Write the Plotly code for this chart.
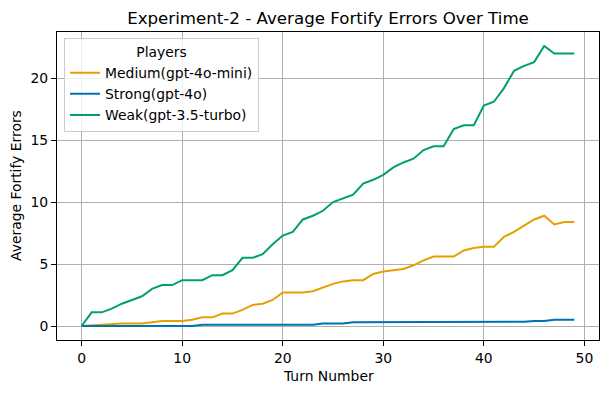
import plotly.graph_objects as go

turns = list(range(50))

medium = [0, 0.05, 0.1, 0.2, 0.2, 0.2, 0.2, 0.3, 0.4, 0.4,
          0.4, 0.5, 0.7, 0.7, 1.0, 1.0, 1.3, 1.7, 1.8, 2.1,
          2.7, 2.7, 2.7, 2.8, 3.1, 3.4, 3.6, 3.7, 3.7, 4.2,
          4.4, 4.5, 4.6, 4.9, 5.3, 5.6, 5.6, 5.6, 6.1, 6.3,
          6.4, 6.4, 7.2, 7.6, 8.1, 8.6, 8.9, 8.2, 8.4, 8.4]

strong = [0, 0, 0, 0, 0, 0, 0, 0, 0, 0,
          0, 0, 0.1, 0.1, 0.1, 0.1, 0.1, 0.1, 0.1, 0.1,
          0.1, 0.1, 0.1, 0.1, 0.2, 0.2, 0.2, 0.3, 0.3, 0.3,
          0.3, 0.3, 0.3, 0.3, 0.3, 0.3, 0.3, 0.3, 0.3, 0.3,
          0.3, 0.3, 0.35, 0.35, 0.35, 0.4, 0.4, 0.5, 0.5, 0.5]

weak = [0, 1.1, 1.1, 1.4, 1.8, 2.1, 2.4, 3.0, 3.3, 3.3,
        3.7, 3.7, 3.7, 4.1, 4.1, 4.5, 5.5, 5.5, 5.8, 6.6,
        7.3, 7.6, 8.6, 8.9, 9.3, 10.0, 10.3, 10.6, 11.5, 11.8,
        12.2, 12.8, 13.2, 13.5, 14.2, 14.5, 14.5, 15.9, 16.2, 16.2,
        17.8, 18.1, 19.2, 20.6, 21.0, 21.3, 22.6, 22.0, 22.0, 22.0]

series = [
    ("Medium(gpt-4o-mini)", medium, "#E69F00"),
    ("Strong(gpt-4o)", strong, "#0072B2"),
    ("Weak(gpt-3.5-turbo)", weak, "#009E73"),
]

fig = go.Figure()
for name, vals, color in series:
    fig.add_trace(go.Scatter(x=turns, y=vals, mode="lines", name=name,
                             line=dict(color=color, width=2)))

font = "DejaVu Sans"
fs = 13.9
# page has an 8px body margin; figure is sized/placed to compensate
W, H = 601, 385
L, R, T, B = 49, 10, 24, 53
PH = H - T - B
fig.update_layout(
    width=W, height=H,
    margin=dict(l=L, r=R, t=T, b=B, autoexpand=False),
    paper_bgcolor="white", plot_bgcolor="white",
    font=dict(family=font, size=fs, color="black"),
    title=dict(text="Experiment-2 - Average Fortify Errors Over Time",
               x=0.5, xanchor="center",
               y=1 - 10 / H, yanchor="middle",
               xref="paper", yref="container", font=dict(size=16.67)),
    legend=dict(
        title=dict(text="Players", side="top center", font=dict(size=fs)),
        x=0.013, y=0.98, xanchor="left", yanchor="top",
        bgcolor="rgba(255,255,255,0.8)", bordercolor="#cccccc", borderwidth=1,
        font=dict(size=fs), tracegroupgap=0, itemwidth=30,
    ),
    annotations=[
        dict(text="Turn Number", xref="paper", yref="paper",
             x=0.5, y=-36 / PH, xanchor="center", yanchor="middle",
             showarrow=False, font=dict(size=fs)),
        dict(text="Average Fortify Errors", xref="paper", yref="paper",
             x=-(57 - 16) / (W - L - R), y=0.5, xanchor="center", yanchor="middle",
             textangle=-90, showarrow=False, font=dict(size=fs)),
    ],
)
fig.update_xaxes(
    range=[-2.45, 51.45], tickmode="array", tickvals=[0, 10, 20, 30, 40, 50],
    showgrid=True, gridcolor="#b0b0b0", gridwidth=1,
    showline=True, linecolor="black", linewidth=1, mirror=True,
    ticks="outside", ticklen=5, tickcolor="black", zeroline=False,
    automargin=False,
)
fig.update_yaxes(
    range=[-1.13, 23.73], tickmode="array", tickvals=[0, 5, 10, 15, 20],
    showgrid=True, gridcolor="#b0b0b0", gridwidth=1,
    showline=True, linecolor="black", linewidth=1, mirror=True,
    ticks="outside", ticklen=5, tickcolor="black", zeroline=False,
    automargin=False,
)

fig.write_html("out.html")
